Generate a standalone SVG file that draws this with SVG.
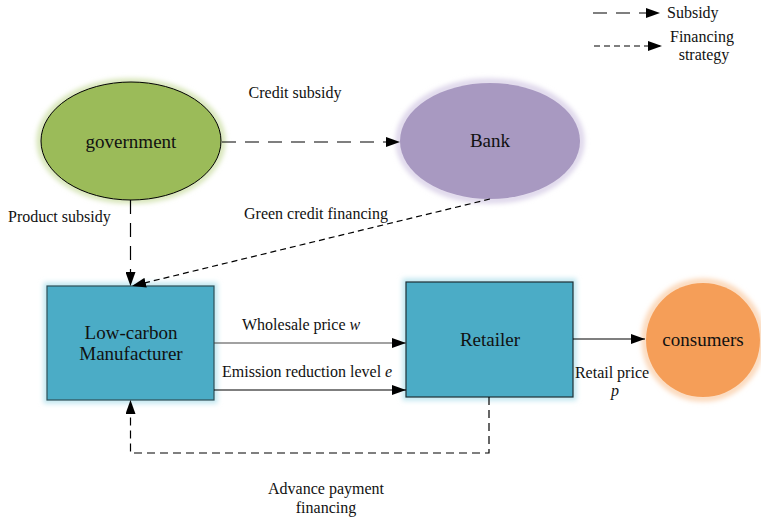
<svg xmlns="http://www.w3.org/2000/svg" width="761" height="517" viewBox="0 0 761 517" font-family="'Liberation Serif', 'DejaVu Serif', serif">
  <style>
    text { font-family: 'Liberation Serif', 'DejaVu Serif', serif; fill: #111; }
    .node { font-size: 19px; text-anchor: middle; }
    .lbl { font-size: 16px; }
    .mid { text-anchor: middle; }
    .it { font-style: italic; }
    .subsidy { fill: none; stroke: #000; stroke-width: 1.2; stroke-dasharray: 14 9; }
    .finance { fill: none; stroke: #000; stroke-width: 1.2; stroke-dasharray: 6 4; }
    .loop { fill: none; stroke: #000; stroke-width: 1.2; stroke-dasharray: 8 5; }
    .solid { fill: none; stroke: #000; stroke-width: 1.2; }
    .grey { stroke: #444; }
    .glow { filter: url(#soft); }
  </style>
  <defs>
    <filter id="soft" x="-20%" y="-20%" width="140%" height="140%">
      <feGaussianBlur stdDeviation="2.5"/>
    </filter>
    <marker id="arrowL" viewBox="0 0 14 10" refX="14" refY="5" markerWidth="14" markerHeight="10" markerUnits="userSpaceOnUse" orient="auto">
      <path d="M0,0 L14,5 L0,10 Z" fill="#000"/>
    </marker>
  </defs>

  <rect width="761" height="517" fill="#fff"/>

  <!-- legend -->
  <g id="legend">
    <line x1="593" y1="13" x2="660" y2="13" class="subsidy" marker-end="url(#arrowL)"/>
    <text x="667" y="18" class="lbl">Subsidy</text>
    <line x1="594" y1="46" x2="662" y2="46" class="finance" marker-end="url(#arrowL)"/>
    <text x="702" y="42" class="lbl mid">Financing</text>
    <text x="704" y="60" class="lbl mid">strategy</text>
  </g>

  <!-- nodes -->
  <g id="government">
    <ellipse cx="131" cy="141" rx="91" ry="59" fill="none" stroke="#d5e4b5" stroke-width="7" class="glow"/>
    <ellipse cx="131" cy="141" rx="90" ry="59" fill="#9bbb59" stroke="#000" stroke-width="1"/>
    <text x="131" y="148" class="node">government</text>
  </g>

  <g id="bank">
    <ellipse cx="490" cy="141" rx="91" ry="59" fill="none" stroke="#ddd5ea" stroke-width="7" class="glow"/>
    <ellipse cx="490" cy="141" rx="90" ry="58" fill="#a899c1"/>
    <text x="490" y="147" class="node">Bank</text>
  </g>

  <g id="manufacturer">
    <rect x="47" y="286" width="167" height="114" fill="none" stroke="#bfe6ef" stroke-width="7" class="glow"/>
    <rect x="47" y="286" width="167" height="114" fill="#4bacc6" stroke="#2f4f57" stroke-width="1.2"/>
    <text x="131" y="339" class="node">Low-carbon</text>
    <text x="131" y="360" class="node">Manufacturer</text>
  </g>

  <g id="retailer">
    <rect x="406" y="282" width="167" height="115" fill="none" stroke="#bfe6ef" stroke-width="7" class="glow"/>
    <rect x="406" y="282" width="167" height="115" fill="#4bacc6" stroke="#1f2f35" stroke-width="1.2"/>
    <text x="490" y="346" class="node">Retailer</text>
  </g>

  <g id="consumers">
    <circle cx="703" cy="340" r="58" fill="none" stroke="#fbd7b8" stroke-width="7" class="glow"/>
    <circle cx="703" cy="340" r="57" fill="#f59e58"/>
    <text x="703" y="346" class="node">consumers</text>
  </g>

  <!-- connectors -->
  <g id="connectors">
    <line x1="222" y1="142" x2="400" y2="142" class="subsidy" marker-end="url(#arrowL)"/>
    <line x1="130.5" y1="200" x2="130.5" y2="286" class="subsidy" marker-end="url(#arrowL)"/>
    <line x1="490" y1="199" x2="132" y2="286" class="finance" marker-end="url(#arrowL)"/>
    <line x1="214" y1="343" x2="406" y2="343" class="solid grey" marker-end="url(#arrowL)"/>
    <line x1="214" y1="390" x2="406" y2="390" class="solid" marker-end="url(#arrowL)"/>
    <line x1="573" y1="339" x2="645" y2="339" class="solid" marker-end="url(#arrowL)"/>
    <polyline points="489,397 489,453 130.5,453 130.5,400" class="loop" marker-end="url(#arrowL)"/>
  </g>

  <!-- connector labels -->
  <g id="labels">
    <text x="295" y="98" class="lbl mid">Credit subsidy</text>
    <text x="8" y="222" class="lbl">Product subsidy</text>
    <text x="316" y="219" class="lbl mid">Green credit financing</text>
    <text x="242" y="330" class="lbl">Wholesale price <tspan class="it">w</tspan></text>
    <text x="222" y="377" class="lbl">Emission reduction level <tspan class="it">e</tspan></text>
    <text x="612" y="378" class="lbl mid">Retail price</text>
    <text x="615" y="396" class="lbl mid it">p</text>
    <text x="326" y="494" class="lbl mid">Advance payment</text>
    <text x="326" y="513" class="lbl mid">financing</text>
  </g>
</svg>
